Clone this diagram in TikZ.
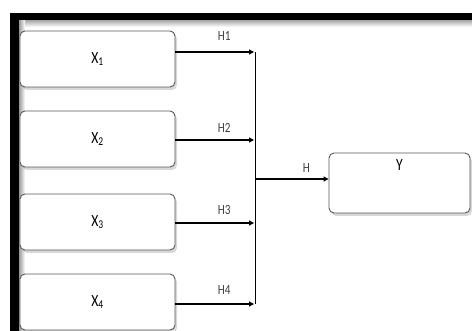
\documentclass[tikz,border=0pt]{standalone}
\usepackage{fontspec}
\setmainfont[FakeStretch=0.8]{Carlito}
\usetikzlibrary{shadows}
\usetikzlibrary{arrows.meta}
\usetikzlibrary{calc}

\tikzset{
    varbox/.style={draw=black!65, line width=0.9pt, rounded corners=5pt, fill=white,
        minimum width=155pt, minimum height=56pt, inner sep=0pt,
        drop shadow={opacity=0.3, shadow xshift=2pt, shadow yshift=-3pt}},
    link/.style={line width=1.1pt, -{Triangle[length=5pt,width=5pt]}},
    hlabel/.style={font=\fontsize{14}{16}\selectfont, text=black!75},
}

\begin{document}
\begin{tikzpicture}[x=1pt, y=-1pt, font=\fontsize{17}{19}\selectfont]
    \useasboundingbox (0,0) rectangle (472,331);
    \fill[white] (0,0) rectangle (472,331);
    % frame
    \shade[top color=black!35, bottom color=white] (19,20) rectangle (472,27);
    \shade[left color=black!40, right color=white] (19,20) rectangle (25,331);
    \fill[black] (10,13) rectangle (472,20);
    \fill[black] (10,13) rectangle (19,331);

    % boxes
    \node[varbox] (x1) at (97.5,59) {X\textsubscript{1}};
    \node[varbox] (x2) at (97.5,139) {X\textsubscript{2}};
    \node[varbox] (x3) at (97.5,222) {X\textsubscript{3}};
    \node[varbox] (x4) at (97.5,302) {X\textsubscript{4}};
    \node[varbox, minimum width=141pt, minimum height=60pt] (yb) at (399.5,183) {};
    \node (ytext) at ($(yb.north)+(0,12)$) {Y};

    % junction
    \coordinate (j1) at (254,52);
    \coordinate (j2) at (254,140);
    \coordinate (j3) at (254,223);
    \coordinate (j4) at (254,304);
    \coordinate (jh) at (255,179);

    \foreach \i/\yl in {1/16,2/12,3/13,4/14}
        \draw[link] (x\i.east |- j\i) -- (j\i)
            node[hlabel, pos=0.62, yshift=\yl pt] (h\i) {H\i};
    \draw[line width=1pt] ($(j1)+(1,0)$) -- ($(j4)+(1,0)$);
    \draw[link] (jh) -- (yb.west |- jh) node[hlabel, pos=0.7, yshift=11pt] (h) {H};
\end{tikzpicture}
\end{document}
